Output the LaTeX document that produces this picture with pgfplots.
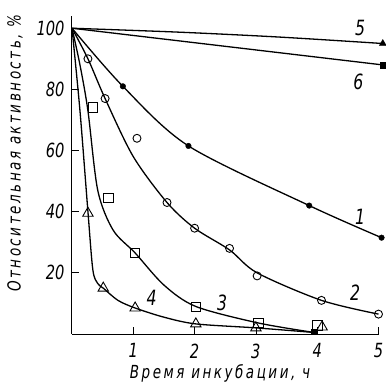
\documentclass[border=0pt]{standalone}
\usepackage{fontspec}
\setmainfont{DejaVu Sans}[FakeStretch=0.75]
\newfontfamily\labfont{DejaVu Sans}[FakeStretch=0.75, LetterSpace=14]
\usepackage{pgfplots}
\pgfplotsset{compat=1.18}
\begin{document}
\begin{tikzpicture}
\useasboundingbox (-72pt,-53pt) rectangle (313pt,334pt);
\begin{axis}[
  scale only axis, width=306.5pt, height=318pt,
  xmin=0, xmax=5, ymin=0, ymax=104,
  axis x line*=bottom, axis y line*=left,
  axis line style={line width=1pt, -},
  xtick={1,2,3,4,5}, ytick={20,40,60,80,100},
  tick align=inside, major tick length=7pt,
  tick style={line width=0.8pt, black},
  clip=false,
  ticklabel style={font=\itshape\fontsize{19.5}{19.5}\selectfont},
  xticklabel style={yshift=-6pt},
  yticklabel style={xshift=-4pt},
  /pgf/number format/assume math mode=true,
  xlabel={\labfont\itshape\fontsize{18}{18}\selectfont Время инкубации, ч},
  ylabel={\labfont\itshape\fontsize{18}{18}\selectfont Относительная активность, \%},
  xlabel style={at={(axis description cs:0.483,-0.123)}, anchor=center},
  ylabel style={at={(axis description cs:-0.186,0.569)}, anchor=center},
]
% curve lines
\addplot[line width=1.3pt, smooth, no marks] coordinates {(0,100) (0.83,81) (1.9,61.5) (3.87,42) (5.05,31.5)};
\addplot[line width=1.3pt, smooth, no marks] coordinates {(0,100) (0.26,90) (0.54,77) (1.0,58) (1.55,43) (2.0,34.6) (2.57,27.5) (3.02,20) (4.07,11) (5.0,6.5)};
\addplot[line width=1.3pt, smooth, no marks] coordinates {(0,100) (0.13,88) (0.26,73) (0.42,47) (0.67,34) (1.03,26.5) (1.5,16) (2.02,9) (3.04,3.6) (3.95,0.5)};
\addplot[line width=1.3pt, smooth, no marks] coordinates {(0,100) (0.13,73) (0.26,40) (0.34,21) (0.42,16.5) (0.51,15) (0.75,11) (1.03,8.5) (1.5,5.5) (2.02,3.3) (3.0,2) (3.95,0.5)};
\addplot[line width=1.3pt, smooth, no marks] coordinates {(0,100) (1.76,98.7) (3.39,97.1) (5.07,95)};
\addplot[line width=1.3pt, no marks] coordinates {(0,100) (5.07,88)};
% markers
\addplot[only marks, mark=*, mark size=2.8pt, black] coordinates {(0.83,81) (1.9,61.5) (3.87,42) (5.05,31.5)};
\addplot[only marks, mark=o, mark size=4pt, line width=0.9pt, black, fill=white] coordinates {(0.26,90) (0.54,77) (1.06,64) (1.55,43) (2.0,34.6) (2.57,28) (3.02,19) (4.07,11) (5.0,6.5)};
\addplot[only marks, mark=square, mark size=4.8pt, line width=0.9pt, black, fill=white] coordinates {(0.34,74) (0.59,44.5) (1.03,26.5) (2.02,8.8) (3.04,3.6) (4.0,2.8)};
\addplot[only marks, mark=triangle, mark size=6pt, line width=0.9pt, black, fill=white] coordinates {(0.26,39.5) (0.51,15) (1.03,8.5) (2.02,3.3) (3.0,2) (4.08,2.3)};
\addplot[only marks, mark=triangle*, mark size=4pt, black] coordinates {(5.07,95)};
\addplot[only marks, mark=square*, mark size=3pt, black] coordinates {(5.07,88)};
\addplot[only marks, mark=square*, mark size=2.5pt, black] coordinates {(3.95,0.8)};
% curve numbers
\node[font=\itshape\fontsize{21}{21}\selectfont] at (axis cs:4.70,100) {5};
\node[font=\itshape\fontsize{21}{21}\selectfont] at (axis cs:4.67,82.4) {6};
\node[font=\itshape\fontsize{21}{21}\selectfont] at (axis cs:4.70,38.2) {1};
\node[font=\itshape\fontsize{21}{21}\selectfont] at (axis cs:4.62,13.4) {2};
\node[font=\itshape\fontsize{21}{21}\selectfont] at (axis cs:2.45,10.1) {3};
\node[font=\itshape\fontsize{21}{21}\selectfont] at (axis cs:1.30,11.8) {4};
\end{axis}
\end{tikzpicture}
\end{document}
